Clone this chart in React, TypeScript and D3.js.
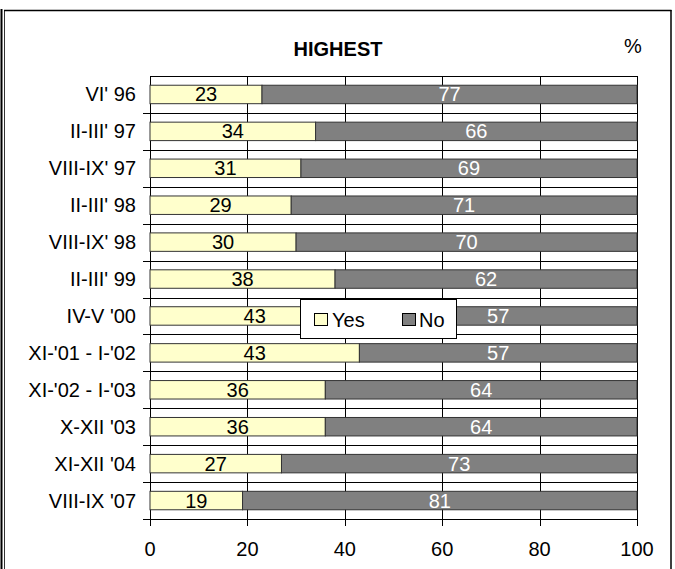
import React from "react";
import * as d3 from "d3";

const categories = [
  "VI' 96",
  "II-III' 97",
  "VIII-IX' 97",
  "II-III' 98",
  "VIII-IX' 98",
  "II-III' 99",
  "IV-V '00",
  "XI-'01 - I-'02",
  "XI-'02 - I-'03",
  "X-XII '03",
  "XI-XII '04",
  "VIII-IX '07",
];
const yesValues = [23, 34, 31, 29, 30, 38, 43, 43, 36, 36, 27, 19];
const noValues = [77, 66, 69, 71, 70, 62, 57, 57, 64, 64, 73, 81];
const xTicks = [0, 20, 40, 60, 80, 100];
const seriesNames = ["Yes", "No"];

const W = 675;
const H = 569;
const FONT = "'Liberation Sans', Arial, sans-serif";
const FS = 20;

export default function App() {
  const x = d3.scaleLinear().domain([0, 100]).range([150, 637]);
  const y = d3
    .scaleBand<string>()
    .domain(categories)
    .range([76, 519])
    .paddingInner(0.5)
    .paddingOuter(0.25);
  const step = y.step();
  const top = 76;
  const bottom = 519;
  const bw = y.bandwidth();

  return (
    <svg
      width={W}
      height={H}
      style={{ position: "absolute", left: 0, top: 0, background: "#fff" }}
      fontFamily={FONT}
    >
      <rect x={0} y={0} width={W} height={H} fill="#fff" />
      {/* outer frame */}
      <line x1={1.5} x2={1.5} y1={9} y2={H} stroke="#000" strokeWidth={2} />
      <line x1={4.5} x2={4.5} y1={10} y2={H} stroke="#333" strokeWidth={1} />
      <line x1={4} x2={671.5} y1={10.5} y2={10.5} stroke="#000" strokeWidth={1.5} />
      <line x1={671} x2={671} y1={10} y2={H} stroke="#000" strokeWidth={1.5} />

      {/* title */}
      <text x={338} y={56} textAnchor="middle" fontWeight="bold" fontSize={FS}>
        HIGHEST
      </text>
      <text x={633} y={53} textAnchor="middle" fontSize={FS}>
        %
      </text>

      {/* horizontal gridlines / category ticks */}
      {categories.map((_, i) => {
        const yy = Math.round(top + (i + 1) * step) + 0.5;
        return (
          <line key={"h" + i} x1={143} x2={x(100)} y1={yy} y2={yy} stroke="#000" strokeWidth={1} />
        );
      })}
      <line x1={x(0)} x2={x(100)} y1={top + 0.5} y2={top + 0.5} stroke="#000" strokeWidth={1} />
      {/* vertical gridlines */}
      {xTicks.map((t) => (
        <line
          key={"v" + t}
          x1={Math.round(x(t)) + 0.5}
          x2={Math.round(x(t)) + 0.5}
          y1={top}
          y2={bottom + 7}
          stroke="#000"
          strokeWidth={1}
        />
      ))}

      {/* bars */}
      {categories.map((c, i) => {
        const y0 = y(c)!;
        const yes = yesValues[i];
        const no = noValues[i];
        const cy = y0 + bw / 2;
        return (
          <g key={c}>
            <rect
              x={x(0)}
              y={y0}
              width={x(yes) - x(0)}
              height={bw}
              fill="#FFFFCC"
              stroke="#333"
              strokeWidth={1}
            />
            <rect
              x={x(yes)}
              y={y0}
              width={x(yes + no) - x(yes)}
              height={bw}
              fill="#808080"
              stroke="#333"
              strokeWidth={1}
            />
            <text x={x(yes / 2)} y={cy + 7} textAnchor="middle" fontSize={FS} fill="#000">
              {yes}
            </text>
            <text x={x(yes + no / 2)} y={cy + 7} textAnchor="middle" fontSize={FS} fill="#fff">
              {no}
            </text>
            <text x={136} y={cy + 7} textAnchor="end" fontSize={FS} fill="#000">
              {c}
            </text>
          </g>
        );
      })}

      {/* x axis labels */}
      {xTicks.map((t) => (
        <text key={"xl" + t} x={x(t)} y={556} textAnchor="middle" fontSize={FS}>
          {t}
        </text>
      ))}

      {/* legend */}
      <rect x={300.5} y={299.5} width={156} height={39} fill="#fff" stroke="#000" strokeWidth={1} />
      <rect x={314.5} y={313.5} width={13} height={12} fill="#FFFFCC" stroke="#000" strokeWidth={1} />
      <text x={332} y={326.5} fontSize={FS}>
        {seriesNames[0]}
      </text>
      <rect x={402.5} y={313.5} width={13} height={12} fill="#808080" stroke="#000" strokeWidth={1} />
      <text x={419} y={326.5} fontSize={FS}>
        {seriesNames[1]}
      </text>
    </svg>
  );
}
